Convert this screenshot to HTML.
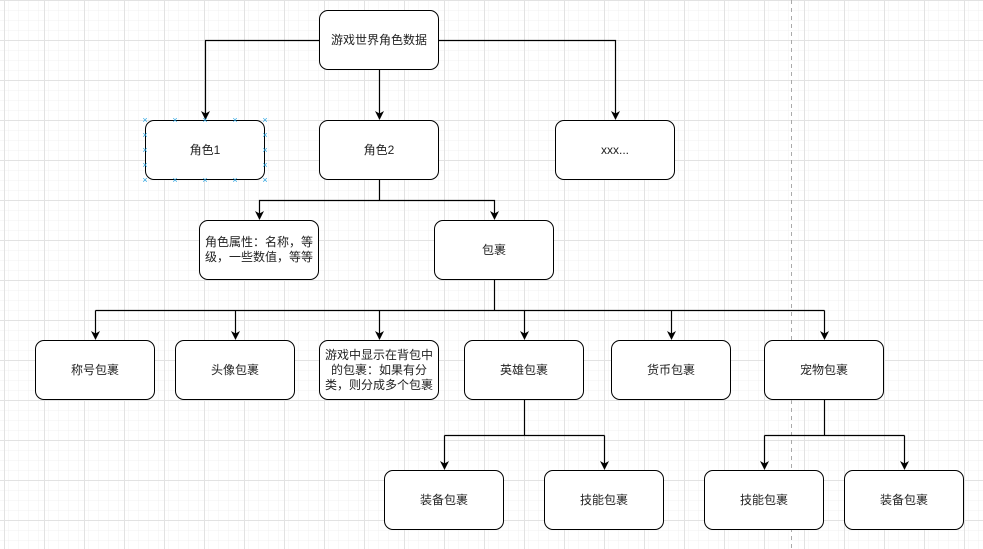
<!DOCTYPE html>
<html><head><meta charset="utf-8">
<style>
html,body{margin:0;padding:0;}
body{width:983px;height:549px;position:relative;overflow:hidden;background:#fff;
font-family:"Liberation Sans","Noto Sans CJK SC",sans-serif;}
.b{position:absolute;width:118px;height:58px;border:1px solid #000;border-radius:9px;background:#fff;
display:flex;align-items:center;justify-content:center;text-align:center;font-size:12px;line-height:15px;color:#222;box-sizing:content-box;}
svg{position:absolute;left:0;top:0;}
.x{position:absolute;color:#29a3e0;font-size:9px;line-height:9px;width:8px;height:8px;text-align:center;}
</style></head><body>
<svg width="983" height="549">
<defs>
<pattern id="s" width="10" height="10" patternUnits="userSpaceOnUse" x="4" y="0">
<path d="M0 0H10M0 0V10" stroke="#f0f0f0" stroke-width="1" fill="none"/></pattern>
<pattern id="g" width="40" height="40" patternUnits="userSpaceOnUse" x="4" y="0">
<rect width="40" height="40" fill="url(#s)"/>
<path d="M0 0.5H40M0.5 0V40" stroke="#e2e2e2" stroke-width="1" fill="none"/></pattern>
</defs>
<rect width="983" height="549" fill="url(#g)"/>
<line x1="791.5" y1="0" x2="791.5" y2="549" stroke="#aaa" stroke-dasharray="4 4"/>
<g stroke="#000" stroke-width="1.2" fill="none">
<path d="M319 40.5H205.5V114"/>
<path d="M439 40.5H615.5V114"/>
<path d="M379.5 70V114"/>
<path d="M379.5 180V200.5"/>
<path d="M259.5 214V200.5H494.5V214"/>
<path d="M494.5 280V310.5"/>
<path d="M95.5 310.5H824.5"/>
<path d="M95.5 310.5V334M235.5 310.5V334M379.5 310.5V334M524.5 310.5V334M671.5 310.5V334M824.5 310.5V334"/>
<path d="M524.5 400V435.5M444.5 435.5H604.5M444.5 435.5V464M604.5 435.5V464"/>
<path d="M824.5 400V435.5M764.5 435.5H904.5M764.5 435.5V464M904.5 435.5V464"/>
</g>
<g fill="#000">
<polygon points="205.5,120 201,111 205.5,113.5 210,111"/>
<polygon points="615.5,120 611,111 615.5,113.5 620,111"/>
<polygon points="379.5,120 375,111 379.5,113.5 384,111"/>
<polygon points="259.5,220 255,211 259.5,213.5 264,211"/>
<polygon points="494.5,220 490,211 494.5,213.5 499,211"/>
<polygon points="95.5,340 91,331 95.5,333.5 100,331"/>
<polygon points="235.5,340 231,331 235.5,333.5 240,331"/>
<polygon points="379.5,340 375,331 379.5,333.5 384,331"/>
<polygon points="524.5,340 520,331 524.5,333.5 529,331"/>
<polygon points="671.5,340 667,331 671.5,333.5 676,331"/>
<polygon points="824.5,340 820,331 824.5,333.5 829,331"/>
<polygon points="444.5,470 440,461 444.5,463.5 449,461"/>
<polygon points="604.5,470 600,461 604.5,463.5 609,461"/>
<polygon points="764.5,470 760,461 764.5,463.5 769,461"/>
<polygon points="904.5,470 900,461 904.5,463.5 909,461"/>
</g>
</svg>
<div class="b" style="left:319px;top:10px">游戏世界角色数据</div>
<div class="b" style="left:145px;top:120px">角色1</div>
<div class="b" style="left:319px;top:120px">角色2</div>
<div class="b" style="left:555px;top:120px">xxx...</div>
<div class="b" style="left:199px;top:220px">角色属性：名称，等级，一些数值，等等</div>
<div class="b" style="left:434px;top:220px">包裹</div>
<div class="b" style="left:35px;top:340px">称号包裹</div>
<div class="b" style="left:175px;top:340px">头像包裹</div>
<div class="b" style="left:319px;top:340px">游戏中显示在背包中的包裹：如果有分类，则分成多个包裹</div>
<div class="b" style="left:464px;top:340px">英雄包裹</div>
<div class="b" style="left:611px;top:340px">货币包裹</div>
<div class="b" style="left:764px;top:340px">宠物包裹</div>
<div class="b" style="left:384px;top:470px">装备包裹</div>
<div class="b" style="left:544px;top:470px">技能包裹</div>
<div class="b" style="left:704px;top:470px">技能包裹</div>
<div class="b" style="left:844px;top:470px">装备包裹</div>
<div class="x" style="left:141px;top:116px">×</div><div class="x" style="left:171px;top:116px">×</div><div class="x" style="left:201px;top:116px">×</div><div class="x" style="left:231px;top:116px">×</div><div class="x" style="left:261px;top:116px">×</div>
<div class="x" style="left:141px;top:176px">×</div><div class="x" style="left:171px;top:176px">×</div><div class="x" style="left:201px;top:176px">×</div><div class="x" style="left:231px;top:176px">×</div><div class="x" style="left:261px;top:176px">×</div>
<div class="x" style="left:141px;top:131px">×</div><div class="x" style="left:141px;top:146px">×</div><div class="x" style="left:141px;top:161px">×</div>
<div class="x" style="left:261px;top:131px">×</div><div class="x" style="left:261px;top:146px">×</div><div class="x" style="left:261px;top:161px">×</div>
</body></html>
